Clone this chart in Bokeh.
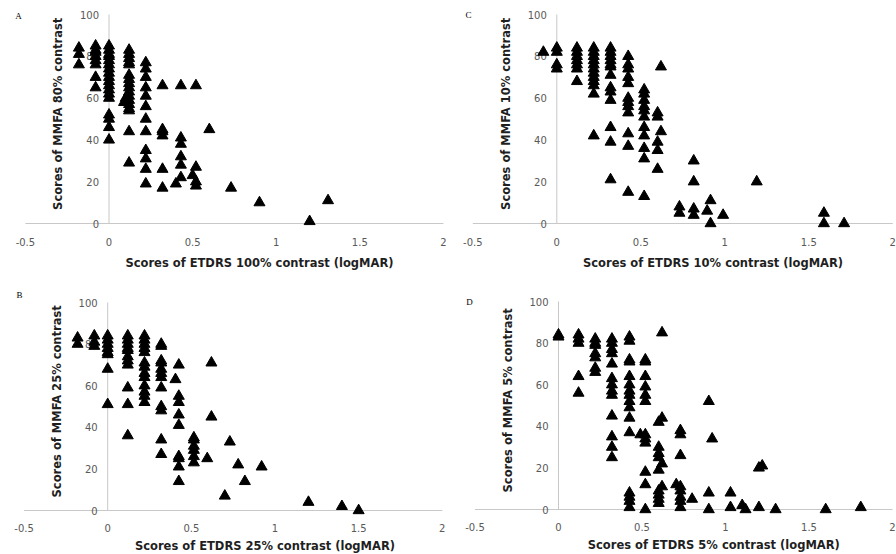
import math
from bokeh.plotting import figure
from bokeh.models import Range1d, Label
from bokeh.layouts import column, row
from bokeh.core.properties import value
from bokeh.embed import file_html
from bokeh.resources import INLINE

# ---- axis ticks ----
x_ticks = [-0.5, 0, 0.5, 1, 1.5, 2]
x_tick_labels = ["-0.5", "0", "0.5", "1", "1.5", "2"]
y_ticks = [0, 20, 40, 60, 80, 100]
y_tick_labels = ["0", "20", "40", "60", "80", "100"]

# ---- Panel A: ETDRS 100% (logMAR) vs MMFA 80% ----
a_cols = {
    -0.18: [84, 81, 76],
    -0.08: [85, 83, 82, 80, 78, 76, 70, 65],
    0.0: [85, 83, 81, 80, 78, 76, 74, 72, 70, 68, 66, 64, 62, 60, 52, 50, 46, 40],
    0.09: [58],
    0.10: [60],
    0.12: [83, 81, 79, 77, 76, 71, 69, 67, 65, 63, 61, 59, 57, 55, 54, 44, 29],
    0.22: [77, 74, 70, 65, 61, 56, 50, 44, 35, 31, 26, 19],
    0.32: [66, 45, 44, 42, 26, 17],
    0.40: [19],
    0.43: [66, 41, 38, 32, 28, 22],
    0.50: [23],
    0.52: [66, 27, 20, 18],
    0.60: [45],
    0.73: [17],
    0.90: [10],
    1.20: [1],
    1.31: [11],
}

# ---- Panel B: ETDRS 25% vs MMFA 25% ----
b_cols = {
    -0.18: [83, 80],
    -0.08: [84, 81, 79],
    0.0: [84, 82, 80, 78, 76, 75, 68, 51],
    0.12: [84, 82, 80, 78, 77, 74, 72, 70, 59, 51, 36],
    0.22: [84, 82, 80, 78, 76, 71, 69, 66, 64, 60, 57, 55, 52],
    0.32: [80, 79, 72, 71, 68, 66, 64, 59, 50, 48, 34, 27],
    0.405: [63],
    0.425: [70, 55, 52, 46, 41, 26, 25, 21, 14],
    0.515: [35, 34, 31, 29, 26, 23],
    0.595: [25],
    0.62: [71, 45],
    0.70: [7],
    0.73: [33],
    0.78: [22],
    0.82: [14],
    0.92: [21],
    1.20: [4],
    1.40: [2],
    1.50: [0],
}

# ---- Panel C: ETDRS 10% vs MMFA 10% ----
c_cols = {
    -0.08: [82],
    0.0: [84, 82, 76, 74],
    0.12: [84, 82, 80, 78, 76, 74, 68],
    0.22: [84, 82, 80, 78, 76, 74, 72, 70, 68, 66, 62, 42],
    0.32: [84, 82, 80, 78, 76, 75, 71, 65, 63, 59, 46, 39, 21],
    0.425: [80, 76, 74, 70, 67, 60, 58, 56, 53, 43, 37, 15],
    0.52: [64, 62, 59, 56, 54, 51, 46, 42, 36, 31, 13],
    0.60: [53, 51, 39, 35, 26],
    0.62: [75, 44],
    0.73: [8, 5],
    0.815: [30, 20, 7, 4],
    0.895: [6],
    0.915: [11, 0],
    0.99: [4],
    1.19: [20],
    1.59: [5, 0],
    1.71: [0],
}

# ---- Panel D: ETDRS 5% vs MMFA 5% ----
d_cols = {
    0.0: [84, 83],
    0.12: [84, 82, 80, 64, 56],
    0.22: [82, 80, 79, 75, 73, 68, 66],
    0.32: [82, 80, 77, 75, 70, 63, 60, 57, 55, 45, 35, 30, 25],
    0.425: [83, 81, 72, 71, 64, 60, 57, 55, 52, 49, 44, 37, 8, 6, 4, 1],
    0.49: [36],
    0.52: [72, 71, 64, 59, 55, 52, 36, 34, 32, 18, 12, 0],
    0.60: [42, 30, 27, 25, 19, 9, 7, 5, 3],
    0.62: [85, 44, 22, 11],
    0.705: [12],
    0.73: [38, 36, 26, 11, 9, 6, 4, 1],
    0.80: [5],
    0.90: [52, 8, 0],
    0.92: [34],
    1.03: [8, 1],
    1.10: [2],
    1.12: [0],
    1.20: [1, 20],
    1.22: [21],
    1.30: [0],
    1.60: [0],
    1.81: [1],
}


def flatten(cols):
    xs, ys = [], []
    for xv, yvals in cols.items():
        for yv in yvals:
            xs.append(xv)
            ys.append(yv)
    return xs, ys


AXIS_COLOR = "#c8c8c8"
TICK_COLOR = "#595959"
TITLE_COLOR = "#1f1f1f"
FONT = "DejaVu Sans"


def make_panel(cols, letter, xtitle, ytitle, cell_w, cell_h,
               zero_px, x_scale, zero_py, y_scale,
               letter_xy, xtitle_xy, xtick_off):
    """zero_px/zero_py: pixel position of the origin inside the cell;
    x_scale/y_scale: pixels per data unit."""
    xs, ys = flatten(cols)
    x_range = Range1d(-zero_px / x_scale, (cell_w - zero_px) / x_scale)
    y_range = Range1d(-(cell_h - zero_py) / y_scale, zero_py / y_scale)
    p = figure(frame_width=cell_w, frame_height=cell_h,
               min_border=0,
               x_range=x_range, y_range=y_range,
               output_backend="svg", toolbar_location=None)
    p.xgrid.visible = False
    p.ygrid.visible = False
    p.xaxis.visible = False
    p.yaxis.visible = False
    p.outline_line_color = None
    p.background_fill_color = "white"
    p.border_fill_color = "white"

    # axis lines crossing at the origin
    p.segment(x0=[x_ticks[0]], y0=[0], x1=[x_ticks[-1]], y1=[0],
              line_color=AXIS_COLOR, line_width=1)
    p.segment(x0=[0], y0=[y_ticks[0]], x1=[0], y1=[y_ticks[-1]],
              line_color=AXIS_COLOR, line_width=1)

    # tick labels
    p.text(x=[0] * len(y_ticks), y=y_ticks, text=y_tick_labels,
           x_offset=-10, text_align="right", text_baseline="middle",
           text_font=value(FONT), text_font_size="10px",
           text_color=TICK_COLOR)
    p.text(x=x_ticks, y=[0] * len(x_ticks), text=x_tick_labels,
           y_offset=xtick_off, text_align="center", text_baseline="middle",
           text_font=value(FONT), text_font_size="10px",
           text_color=TICK_COLOR)

    p.scatter(xs, ys, marker="triangle", size=11,
              fill_color="black", line_color="black")

    # axis titles
    p.add_layout(Label(x=-0.305, y=52.5, text=ytitle, angle=math.pi / 2,
                       text_font=FONT, text_font_style="bold",
                       text_font_size="11.5px", text_color=TITLE_COLOR,
                       text_align="center", text_baseline="middle"))
    p.add_layout(Label(x=xtitle_xy[0], y=xtitle_xy[1], text=xtitle,
                       text_font=FONT, text_font_style="bold",
                       text_font_size="11.5px", text_color=TITLE_COLOR,
                       text_align="center", text_baseline="middle"))
    # panel letter
    p.add_layout(Label(x=letter_xy[0], y=letter_xy[1], text=letter,
                       text_font="Liberation Serif", text_font_size="9px",
                       text_color="black",
                       text_align="center", text_baseline="middle"))
    return p


pA = make_panel(a_cols, "A", "Scores of ETDRS 100% contrast (logMAR)",
                "Scores of MMFA 80% contrast", 448, 280,
                108.5, 167.2, 223, 2.09,
                (-0.541, 99.5), (0.90, -19.1), 18)
pC = make_panel(c_cols, "C", "Scores of ETDRS 10% contrast (logMAR)",
                "Scores of MMFA 10% contrast", 448, 280,
                108.3, 168.0, 223, 2.09,
                (-0.526, 100), (0.93, -19.1), 18)
pB = make_panel(b_cols, "B", "Scores of ETDRS 25% contrast (logMAR)",
                "Scores of MMFA 25% contrast", 448, 274,
                107.2, 167.3, 230, 2.08,
                (-0.527, 103.4), (0.94, -17.3), 17)
pD = make_panel(d_cols, "D", "Scores of ETDRS 5% contrast (logMAR)",
                "Scores of MMFA 5% contrast", 448, 274,
                110.0, 167.0, 229, 2.08,
                (-0.533, 100), (0.93, -17.3), 17)

layout = column(row(pA, pC, spacing=0), row(pB, pD, spacing=0), spacing=0)

open("out.html", "w").write(file_html(layout, INLINE))
